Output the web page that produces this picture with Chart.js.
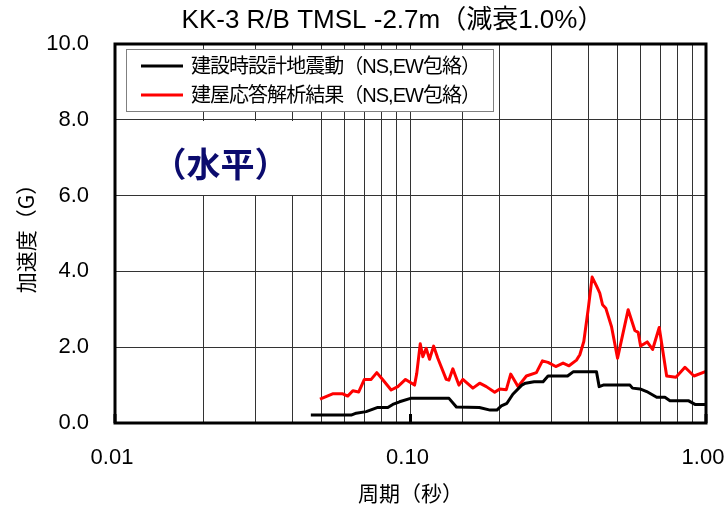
<!DOCTYPE html>
<html>
<head>
<meta charset="utf-8">
<script src="https://cdn.jsdelivr.net/npm/chart.js@4/dist/chart.umd.min.js"></script>
<style>
  html, body { margin: 0; padding: 0; background: #fff; }
  #wrap { width: 725px; height: 508px; }
</style>
</head>
<body>
<div id="wrap"><canvas id="c" width="725" height="508"></canvas></div>
<script>
// Floor response spectrum, KK-3 R/B TMSL -2.7m, damping 1.0%
const chartTitle = 'KK-3 R/B TMSL -2.7m（減衰1.0%）';
const xAxisTitle = '周期（秒）';
const yAxisTitle = '加速度（G）';
const noteText = '（水平）';
const seriesNames = ['建設時設計地震動（NS,EW包絡）', '建屋応答解析結果（NS,EW包絡）'];
const seriesColors = ['#000000', '#ff0000'];

// design ground motion (NS/EW envelope): period [s], acceleration [G]
const designPeriods = [0.046, 0.063, 0.0655, 0.0708, 0.0775, 0.0838, 0.0871, 0.0918, 0.100, 0.135,
  0.143, 0.171, 0.186, 0.196, 0.203, 0.212, 0.222, 0.238, 0.245, 0.262, 0.281, 0.292, 0.340, 0.355,
  0.426, 0.435, 0.449, 0.553, 0.564, 0.598, 0.630, 0.681, 0.726, 0.755, 0.871, 0.918, 1.000];
const designAccel = [0.21, 0.21, 0.26, 0.30, 0.41, 0.41, 0.49, 0.56, 0.65, 0.65,
  0.42, 0.41, 0.34, 0.34, 0.45, 0.52, 0.76, 1.00, 1.05, 1.09, 1.09, 1.24, 1.24, 1.35,
  1.35, 0.96, 1.00, 1.00, 0.92, 0.90, 0.83, 0.68, 0.68, 0.59, 0.59, 0.49, 0.49];

// building response analysis (NS/EW envelope): period [s], acceleration [G]
const responsePeriods = [0.0494, 0.0545, 0.0590, 0.0613, 0.0638, 0.0668, 0.0698, 0.0736, 0.0769, 0.0806,
  0.0860, 0.0906, 0.0962, 0.1032, 0.1050, 0.1079, 0.1101, 0.1130, 0.1160, 0.1197, 0.1237, 0.1321,
  0.1348, 0.1391, 0.1458, 0.1504, 0.1626, 0.1714, 0.1806, 0.1927, 0.2004, 0.2110, 0.2183, 0.2311,
  0.2467, 0.2667, 0.2795, 0.2920, 0.3101, 0.3283, 0.3440, 0.3645, 0.3741, 0.3859, 0.3991, 0.4118,
  0.4260, 0.4370, 0.4466, 0.4580, 0.4790, 0.5020, 0.5453, 0.5745, 0.5896, 0.6007, 0.6324, 0.6597,
  0.6946, 0.7360, 0.7912, 0.8488, 0.9107, 1.0000];
const responseAccel = [0.63, 0.77, 0.77, 0.71, 0.85, 0.82, 1.15, 1.15, 1.33, 1.14,
  0.87, 0.96, 1.15, 1.00, 1.31, 2.09, 1.75, 1.97, 1.68, 2.03, 1.71, 1.15,
  1.13, 1.43, 1.00, 1.15, 0.92, 1.05, 0.96, 0.81, 0.90, 0.88, 1.29, 0.96,
  1.24, 1.33, 1.64, 1.60, 1.49, 1.58, 1.51, 1.66, 1.80, 2.15, 2.99, 3.85,
  3.62, 3.43, 3.12, 3.03, 2.54, 1.71, 2.99, 2.44, 2.39, 2.03, 2.14, 1.94,
  2.52, 1.24, 1.21, 1.47, 1.24, 1.36];

const xTickLabels = [0.01, 0.1, 1];
const yTickLabels = [0, 2, 4, 6, 8, 10];

const FONT = '"Liberation Sans", "Noto Sans CJK JP", sans-serif';
const CJK = '"Noto Sans CJK JP", sans-serif';
const GRID = '#333333';

const toPoints = (xs, ys) => xs.map((x, i) => ({ x, y: ys[i] }));

const decorations = {
  id: 'decorations',
  beforeDatasetsDraw(chart) {
    const { ctx, scales: { x, y } } = chart;
    ctx.save();
    // keep grid lines inside the period range
    ctx.fillStyle = '#fff';
    ctx.fillRect(x.right + 2, y.top - 3, chart.width - x.right, y.bottom - y.top + 6);

    // white panel behind the direction note
    const bx0 = x.left + 1, bx1 = Math.round(x.getPixelForValue(0.05)) - 1;
    const by0 = Math.round(y.getPixelForValue(8)) + 1, by1 = Math.round(y.getPixelForValue(6)) - 1;
    ctx.fillRect(bx0, by0, bx1 - bx0, by1 - by0);
    ctx.fillStyle = '#0b0b6e';
    ctx.font = 'bold 34px ' + CJK;
    ctx.textAlign = 'center';
    ctx.textBaseline = 'middle';
    ctx.fillText(noteText, (bx0 + bx1) / 2 + 2, (by0 + by1) / 2 + 6);

    // legend box
    const lx = x.left + 11, ly = y.top + 5, lw = 367, lh = 62;
    ctx.fillStyle = '#fff';
    ctx.fillRect(lx, ly, lw, lh);
    ctx.strokeStyle = '#808080';
    ctx.lineWidth = 1;
    ctx.strokeRect(lx + 0.5, ly + 0.5, lw, lh);
    ctx.font = '20px ' + FONT;
    ctx.textAlign = 'left';
    chart.data.datasets.forEach((ds, i) => {
      const rowY = ly + 17 + i * 29;
      ctx.strokeStyle = ds.borderColor;
      ctx.lineWidth = 3;
      ctx.beginPath();
      ctx.moveTo(lx + 15, rowY);
      ctx.lineTo(lx + 57, rowY);
      ctx.stroke();
      ctx.fillStyle = '#000';
      const w = ctx.measureText(ds.label).width;
      const n = [...ds.label].length;
      ctx.letterSpacing = ((289 - w) / n) + 'px';
      ctx.fillText(ds.label, lx + 65, rowY + 1);
      ctx.letterSpacing = '0px';
    });
    ctx.restore();
  },
  afterDatasetsDraw(chart) {
    const { ctx, scales: { x, y } } = chart;
    ctx.save();
    ctx.strokeStyle = '#000';
    ctx.lineWidth = 3;
    ctx.strokeRect(x.left, y.top, x.right - x.left, y.bottom - y.top);
    // major tick marks inside the bottom axis, with their labels below
    ctx.fillStyle = '#000';
    ctx.font = '22px ' + FONT;
    ctx.textAlign = 'center';
    ctx.textBaseline = 'middle';
    xTickLabels.forEach(v => {
      const px = x.getPixelForValue(v);
      ctx.beginPath();
      ctx.moveTo(px, y.bottom);
      ctx.lineTo(px, y.bottom - 9);
      ctx.stroke();
      ctx.fillText(v.toFixed(2), px - 3, y.bottom + 35);
    });
    ctx.restore();
  },
  afterDraw(chart) {
    const { ctx, scales: { x } } = chart;
    ctx.save();
    ctx.fillStyle = '#000';
    ctx.font = '26px ' + FONT;
    ctx.textAlign = 'center';
    ctx.textBaseline = 'middle';
    ctx.fillText(chartTitle, (x.left + x.right) / 2 - 18, 21);
    ctx.restore();
  }
};

new Chart(document.getElementById('c'), {
  type: 'line',
  data: {
    datasets: [
      { label: seriesNames[0], data: toPoints(designPeriods, designAccel), borderColor: seriesColors[0] },
      { label: seriesNames[1], data: toPoints(responsePeriods, responseAccel), borderColor: seriesColors[1] }
    ]
  },
  options: {
    responsive: false,
    animation: false,
    devicePixelRatio: 1,
    layout: { padding: { top: 44, right: 19, left: 0, bottom: 0 } },
    elements: {
      point: { radius: 0 },
      line: { borderWidth: 3, tension: 0, borderJoinStyle: 'round', borderCapStyle: 'butt', fill: false }
    },
    plugins: { legend: { display: false }, title: { display: false }, tooltip: { enabled: false } },
    scales: {
      x: {
        type: 'logarithmic',
        min: 0.01, max: 1,
        afterFit(s) { s.height = 85; },
        grid: { color: GRID, lineWidth: 1, drawTicks: false },
        border: { display: false },
        ticks: { display: false, autoSkip: false, maxRotation: 0 },
        title: {
          display: true, text: xAxisTitle, color: '#000',
          font: { family: CJK, size: 21 }, padding: { top: 0, bottom: 2 }
        }
      },
      y: {
        min: 0, max: 10,
        afterFit(s) { s.width = 115; },
        afterBuildTicks(s) { s.ticks = yTickLabels.map(v => ({ value: v })); },
        grid: { color: GRID, lineWidth: 1, drawTicks: false },
        border: { display: false },
        ticks: {
          padding: 26, color: '#000',
          font: { family: FONT, size: 22 },
          callback(v) { return Number(v).toFixed(1); }
        },
        title: {
          display: true, text: yAxisTitle, color: '#000',
          font: { family: CJK, size: 21 }, padding: { top: 13, bottom: 0 }
        }
      }
    }
  },
  plugins: [decorations]
});
</script>
</body>
</html>
